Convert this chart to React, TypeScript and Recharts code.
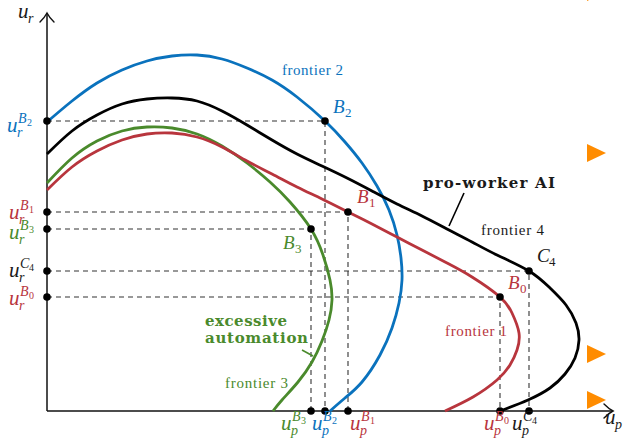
import { ComposedChart, Line, Scatter, XAxis, YAxis, ReferenceDot } from "recharts";

// frontier curves, in (u_p, u_r) units
const frontier1 = [
  [0, 221], [25, 244], [50, 260], [75, 271], [100, 277], [125, 278], [150, 274], [175, 264],
  [200, 250], [225, 237], [250, 224], [275, 212], [301, 199], [325, 187], [350, 174], [375, 161],
  [400, 148], [425, 134], [453, 114], [465, 98], [472, 78], [470, 61], [463, 46], [450, 31],
  [426, 14], [398, 0],
];
const frontier2 = [
  [0, 289], [25, 310], [50, 328], [75, 341], [100, 350], [125, 355], [150, 356], [175, 352],
  [200, 343], [225, 331], [250, 314], [278, 290], [298, 269], [315, 248], [330, 225], [342, 201],
  [350, 176], [354, 153], [355, 131], [352, 108], [345, 83], [333, 56], [315, 29], [298, 13],
  [283, 0],
];
const frontier3 = [
  [0, 228], [25, 253], [50, 270], [75, 280], [100, 284], [125, 283], [150, 277], [175, 265],
  [200, 248], [223, 229], [243, 209], [264, 182], [276, 156], [283, 131], [285, 111], [282, 91],
  [275, 70], [265, 49], [251, 29], [235, 11], [226, 0],
];
const frontier4 = [
  [0, 257], [25, 280], [50, 296], [75, 307], [100, 312], [125, 313], [150, 310], [175, 300],
  [200, 286], [225, 271], [250, 257], [275, 245], [300, 233], [325, 220], [350, 207], [375, 195],
  [400, 182], [425, 169], [450, 156], [482, 140], [503, 123], [519, 106], [529, 88], [532, 71],
  [528, 53], [518, 37], [503, 23], [481, 11], [453, 0],
];

// equilibrium points
const pointNames = ["B2", "B1", "B3", "C4", "B0"];
const pointUp = [278, 301, 264, 482, 453];
const pointUr = [290, 199, 182, 140, 114];

// orange markers on the right edge
const markerX = [549, 549, 549, 549];
const markerY = [258, 57, 11, 419];

const BLUE = "#0a72bd";
const RED = "#b8353d";
const GREEN = "#4a8a2c";
const DARK = "#1a1a1a";
const SERIF = "'Liberation Serif', 'DejaVu Serif', serif";
const BOLD = "'DejaVu Serif', serif";

const pointColor: Record<string, string> = { B2: BLUE, B1: RED, B3: GREEN, C4: DARK, B0: RED };
// label offsets (start of the "u", baseline) relative to the tick
const yLabelShift: Record<string, [number, number]> = {
  B2: [-40, -11], B1: [-38, -7], B3: [-38, -10], C4: [-38, -6], B0: [-38, -8],
};
const xLabelShift: Record<string, number> = { B3: -30, B2: -13, B1: 2, B0: -16, C4: -17 };

const pts = (arr: number[][]) => arr.map(([x, y]) => ({ x, y }));

function MathSym({ cx, cy, sub, letter, idx, color }: any) {
  return (
    <g fill={color} fontFamily={SERIF}>
      <text x={cx} y={cy} fontSize={21} fontStyle="italic">u</text>
      <text x={cx + 10} y={cy + 5} fontSize={14} fontStyle="italic">{sub}</text>
      {letter && (
        <text x={cx + 11} y={cy - 9} fontSize={14} fontStyle="italic">{letter}</text>
      )}
      {idx && (
        <text x={cx + 20} y={cy - 6} fontSize={10}>{idx}</text>
      )}
    </g>
  );
}

function PointName({ cx, cy, name, color }: any) {
  return (
    <g fill={color} fontFamily={SERIF}>
      <text x={cx} y={cy} fontSize={19} fontStyle="italic">{name[0]}</text>
      <text x={cx + 12} y={cy + 4} fontSize={13}>{name[1]}</text>
    </g>
  );
}

function Words({ cx, cy, text, color, bold, width }: any) {
  return (
    <text
      x={cx}
      y={cy}
      fill={color}
      fontFamily={bold ? BOLD : SERIF}
      fontWeight={bold ? 700 : 400}
      fontSize={15}
      textLength={width}
    >
      {text}
    </text>
  );
}

// LaTeX-like arrow tip, pointing up or right
function ArrowTip({ cx, cy, dir }: any) {
  const d =
    dir === "up"
      ? `M${cx - 7},${cy + 9} Q${cx - 2},${cy + 4} ${cx},${cy} Q${cx + 2},${cy + 4} ${cx + 7},${cy + 9}`
      : `M${cx - 9},${cy - 7} Q${cx - 4},${cy - 2} ${cx},${cy} Q${cx - 4},${cy + 2} ${cx - 9},${cy + 7}`;
  return <path d={d} fill="none" stroke="#111" strokeWidth={1.4} strokeLinecap="round" />;
}

const notes = [
  { x: 235, y: 336, text: "frontier 2", color: BLUE, width: 61 },
  { x: 376, y: 223, text: "pro-worker AI", color: DARK, width: 132, bold: true },
  { x: 434, y: 176, text: "frontier 4", color: DARK, width: 63 },
  { x: 398, y: 75, text: "frontier 1", color: RED, width: 62 },
  { x: 158, y: 85, text: "excessive", color: GREEN, width: 82, bold: true },
  { x: 158, y: 68, text: "automation", color: GREEN, width: 103, bold: true },
  { x: 178, y: 23, text: "frontier 3", color: GREEN, width: 63 },
];
const nameSpots: Record<string, [number, number]> = {
  B2: [286, 298], B1: [310, 208], B3: [236, 162], C4: [490, 149], B0: [461, 122],
};

export default function App() {
  const dots = [
    ...pointNames.map((_, i) => ({ x: pointUp[i], y: pointUr[i] })),
    ...pointNames.map((_, i) => ({ x: 0, y: pointUr[i] })),
    ...pointNames.map((_, i) => ({ x: pointUp[i], y: 0 })),
  ];
  const markers = markerX.map((x, i) => ({ x, y: markerY[i] }));

  const plain = (key: string, data: number[][], stroke: string, width: number) => (
    <Line
      key={key}
      data={pts(data)}
      dataKey="y"
      type="linear"
      stroke={stroke}
      strokeWidth={width}
      dot={false}
      activeDot={false}
      isAnimationActive={false}
    />
  );
  const curve = (key: string, data: number[][], stroke: string) => (
    <Line
      key={key}
      data={pts(data)}
      dataKey="y"
      type="natural"
      stroke={stroke}
      strokeWidth={2.8}
      dot={false}
      activeDot={false}
      isAnimationActive={false}
    />
  );

  return (
    <div style={{ position: "absolute", left: 0, top: 0, background: "#fff" }}>
      <ComposedChart width={623} height={441} margin={{ top: 0, right: 0, bottom: 0, left: 0 }}>
        <XAxis type="number" dataKey="x" domain={[-47, 576]} allowDataOverflow hide height={0} />
        <YAxis type="number" dataKey="y" domain={[-30, 411]} allowDataOverflow hide width={0} />

        {/* dashed guides */}
        {pointNames.map((n, i) => (
          <Line
            key={"g" + n}
            data={pts([[0, pointUr[i]], [pointUp[i], pointUr[i]], [pointUp[i], 0]])}
            dataKey="y"
            type="linear"
            stroke="#333"
            strokeWidth={1.1}
            strokeDasharray="5 4"
            dot={false}
            activeDot={false}
            isAnimationActive={false}
          />
        ))}

        {/* axes */}
        {plain("ax", [[0, 0], [565, 0]], "#111", 1.5)}
        {plain("ay", [[0, 0], [0, 398]], "#111", 1.5)}

        {/* frontiers */}
        {curve("f2", frontier2, BLUE)}
        {curve("f4", frontier4, "#000")}
        {curve("f3", frontier3, GREEN)}
        {curve("f1", frontier1, RED)}

        {/* pointers */}
        {plain("p4", [[402, 185], [417, 218]], "#000", 1.6)}
        {plain("p3", [[255, 61], [266, 55]], GREEN, 1.6)}

        <Scatter data={dots} fill="#000" isAnimationActive={false} shape={(p: any) => <circle cx={p.cx} cy={p.cy} r={3.8} fill="#000" />} />
        <Scatter
          data={markers}
          fill="#ff8c00"
          isAnimationActive={false}
          shape={(p: any) => (
            <polygon
              points={`${p.cx - 9},${p.cy - 9} ${p.cx + 10},${p.cy} ${p.cx - 9},${p.cy + 9}`}
              fill="#ff8c00"
            />
          )}
        />

        {/* arrow tips */}
        <ReferenceDot x={0} y={398} ifOverflow="visible" shape={(p: any) => <ArrowTip cx={p.cx} cy={p.cy} dir="up" />} />
        <ReferenceDot x={566} y={0} ifOverflow="visible" shape={(p: any) => <ArrowTip cx={p.cx} cy={p.cy} dir="right" />} />

        {/* axis titles */}
        <ReferenceDot x={-29} y={393} ifOverflow="visible" shape={(p: any) => <MathSym cx={p.cx} cy={p.cy} sub="r" color={DARK} />} />
        <ReferenceDot x={558} y={-13} ifOverflow="visible" shape={(p: any) => <MathSym cx={p.cx} cy={p.cy} sub="p" color={DARK} />} />

        {/* tick labels */}
        {pointNames.map((n, i) => (
          <ReferenceDot
            key={"yl" + n}
            x={yLabelShift[n][0]}
            y={pointUr[i] + yLabelShift[n][1]}
            ifOverflow="visible"
            shape={(p: any) => <MathSym cx={p.cx} cy={p.cy} sub="r" letter={n[0]} idx={n[1]} color={pointColor[n]} />}
          />
        ))}
        {pointNames.map((n, i) => (
          <ReferenceDot
            key={"xl" + n}
            x={pointUp[i] + xLabelShift[n]}
            y={-19}
            ifOverflow="visible"
            shape={(p: any) => <MathSym cx={p.cx} cy={p.cy} sub="p" letter={n[0]} idx={n[1]} color={pointColor[n]} />}
          />
        ))}

        {/* point names */}
        {pointNames.map((n) => (
          <ReferenceDot
            key={"pn" + n}
            x={nameSpots[n][0]}
            y={nameSpots[n][1]}
            ifOverflow="visible"
            shape={(p: any) => <PointName cx={p.cx} cy={p.cy} name={n} color={pointColor[n]} />}
          />
        ))}

        {/* text notes */}
        {notes.map((t) => (
          <ReferenceDot
            key={t.text}
            x={t.x}
            y={t.y}
            ifOverflow="visible"
            shape={(p: any) => <Words cx={p.cx} cy={p.cy} {...t} />}
          />
        ))}
      </ComposedChart>
    </div>
  );
}
